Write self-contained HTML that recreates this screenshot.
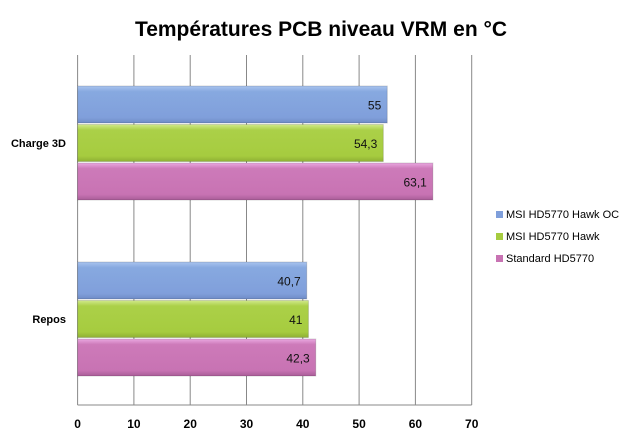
<!DOCTYPE html>
<html><head><meta charset="utf-8"><style>
body{margin:0;background:#fff;width:643px;height:439px;overflow:hidden;font-family:"Liberation Sans",sans-serif}
</style></head><body>
<svg id="c" width="643" height="439" xmlns="http://www.w3.org/2000/svg">
<defs>
<linearGradient id="g0" x1="0" y1="0" x2="0" y2="1"><stop offset="0" stop-color="#a9c4ef"/><stop offset="0.15" stop-color="#87a9e0"/><stop offset="0.85" stop-color="#809fdb"/><stop offset="1" stop-color="#6f8cc6"/></linearGradient>
<linearGradient id="g1" x1="0" y1="0" x2="0" y2="1"><stop offset="0" stop-color="#d0e98a"/><stop offset="0.15" stop-color="#abd048"/><stop offset="0.85" stop-color="#a6cc3f"/><stop offset="1" stop-color="#8fb034"/></linearGradient>
<linearGradient id="g2" x1="0" y1="0" x2="0" y2="1"><stop offset="0" stop-color="#eaa8e0"/><stop offset="0.15" stop-color="#cd7ab9"/><stop offset="0.85" stop-color="#c873b3"/><stop offset="1" stop-color="#a95d98"/></linearGradient>
</defs>
<text x="321" y="36" text-anchor="middle" font-size="21" font-weight="bold" fill="#000">Températures PCB niveau VRM en °C</text>
<g id="grid"></g><g id="bars"></g><g id="legend"></g>
</svg>
<script>
const categories=["Charge 3D","Repos"];
const series=["MSI HD5770 Hawk OC","MSI HD5770 Hawk","Standard HD5770"];
const hawkOC=[55,40.7];
const hawk=[54.3,41];
const standard=[63.1,42.3];
const ticks=[0,10,20,30,40,50,60,70];
const vals=[hawkOC,hawk,standard];
const NS="http://www.w3.org/2000/svg";
const x0=77.6,sc=5.63,yTop=55,band=176,yBottom=405;
const X=v=>x0+v*sc;
function mk(t,a,p){const e=document.createElementNS(NS,t);for(const k in a)e.setAttribute(k,a[k]);p.appendChild(e);return e;}
const grid=document.getElementById('grid'),bars=document.getElementById('bars'),leg=document.getElementById('legend');
ticks.forEach(t=>{
 const l=mk('line',{x1:X(t),x2:X(t),y1:yTop,y2:yBottom,stroke:'#888','stroke-width':1},grid);
 
 
 const tx=mk('text',{x:X(t),y:428,'text-anchor':'middle','font-size':12,'font-weight':'bold'},grid);
 tx.textContent=t;
 
 
});
const bl=mk('line',{x1:X(0),x2:X(70),y1:yBottom,y2:yBottom,stroke:'#888'},grid);


const bh=37,gap=1.5;
categories.forEach((c,i)=>{
 const cy=yTop+band*(i+0.5);
 const ct=mk('text',{x:66,y:cy+4,'text-anchor':'end','font-size':11,'font-weight':'bold'},bars);
 ct.textContent=c;
 
 
 vals.forEach((s,j)=>{
  const y=cy-1.5*bh-gap+j*(bh+gap);
  const r=mk('rect',{x:X(0),y:y,width:X(s[i])-X(0),height:bh,fill:'url(#g'+j+')',stroke:'rgba(0,0,0,0.15)','stroke-width':1},bars);
  
  
  const vt=mk('text',{x:X(s[i])-6,y:y+bh/2+5,'text-anchor':'end','font-size':12,fill:'#111'},bars);
  vt.textContent=String(s[i]).replace('.',',');
  
  
 });
});
const cols=['#7f9fdb','#a6cc3f','#c873b3'];
series.forEach((s,j)=>{
 const y=215+j*22;
 const r=mk('rect',{x:496,y:y-4,width:7,height:7,fill:cols[j]},leg);
 
 
 const t=mk('text',{x:506,y:y+3,'font-size':11},leg);
 t.textContent=s;
 
 
});
</script>
</body></html>
